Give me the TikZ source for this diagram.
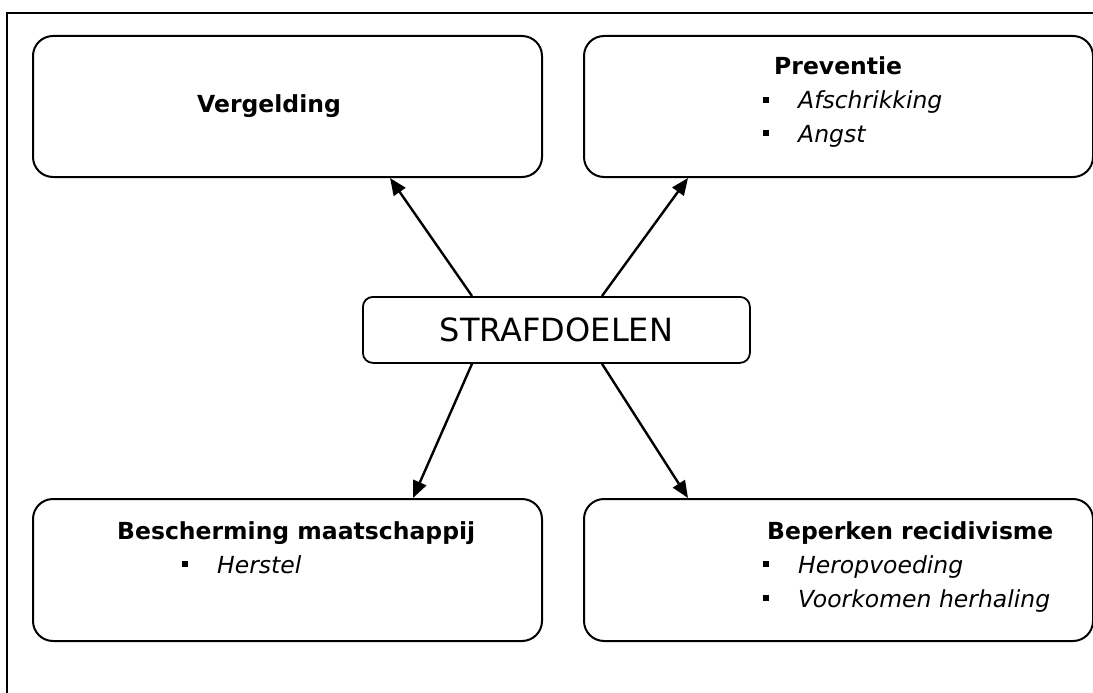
\documentclass[tikz,border=0pt]{standalone}
\usepackage{fontspec}
\setmainfont{DejaVu Sans}
\usetikzlibrary{arrows.meta}
\begin{document}
\begin{tikzpicture}[x=1pt,y=-1pt,
  box/.style={draw, line width=2pt, rounded corners=20pt, inner sep=0pt, anchor=north west},
  cbox/.style={draw, line width=1.8pt, rounded corners=10pt, inner sep=0pt, anchor=north west},
  txt/.style={inner sep=0pt, anchor=base west, font=\fontsize{23.5}{28}\selectfont},
  arr/.style={line width=2.4pt, -{Triangle[length=17pt,width=14pt]}}]
\useasboundingbox (0,0) rectangle (1093,693);
% outer frame
\draw[line width=2pt] (7,700) -- (7,13) -- (1100,13);
% boxes
\node[box, minimum width=509pt, minimum height=141pt] (vg) at (32,35) {};
\node[box, minimum width=509pt, minimum height=141pt] (pv) at (583,35) {};
\node[box, minimum width=509pt, minimum height=142pt] (bs) at (32,498) {};
\node[box, minimum width=509pt, minimum height=142pt] (br) at (583,498) {};
\node[cbox, minimum width=387pt, minimum height=66pt] (cen) at (362,296) {};
\node[inner sep=0pt, font=\fontsize{32}{38}\selectfont] (cent) at (cen.center) {STRAFDOELEN};
% texts
\node[txt] (vgt) at (197,112) {\bfseries Vergelding};
\node[txt] (pvt) at (774,75) {\bfseries Preventie};
\node[txt] (pv1) at (763,109) {\rule[6pt]{6pt}{6pt}\hspace{29pt}\itshape Afschrikking};
\node[txt] (pv2) at (763,142) {\rule[6pt]{6pt}{6pt}\hspace{29pt}\itshape Angst};
\node[txt] (bst) at (117,539) {\bfseries Bescherming maatschappij};
\node[txt] (bs1) at (182,573) {\rule[6pt]{6pt}{6pt}\hspace{29pt}\itshape Herstel};
\node[txt] (brt) at (767,539) {\bfseries Beperken recidivisme};
\node[txt] (br1) at (763,573) {\rule[6pt]{6pt}{6pt}\hspace{29pt}\itshape Heropvoeding};
\node[txt] (br2) at (763,607) {\rule[6pt]{6pt}{6pt}\hspace{29pt}\itshape Voorkomen herhaling};
% arrows
\draw[arr] ([xshift=110pt]cen.north west) -- ([xshift=358pt]vg.south west);
\draw[arr] ([xshift=240pt]cen.north west) -- ([xshift=105pt]pv.south west);
\draw[arr] ([xshift=110pt]cen.south west) -- ([xshift=381pt]bs.north west);
\draw[arr] ([xshift=240pt]cen.south west) -- ([xshift=105pt]br.north west);
\end{tikzpicture}
\end{document}
